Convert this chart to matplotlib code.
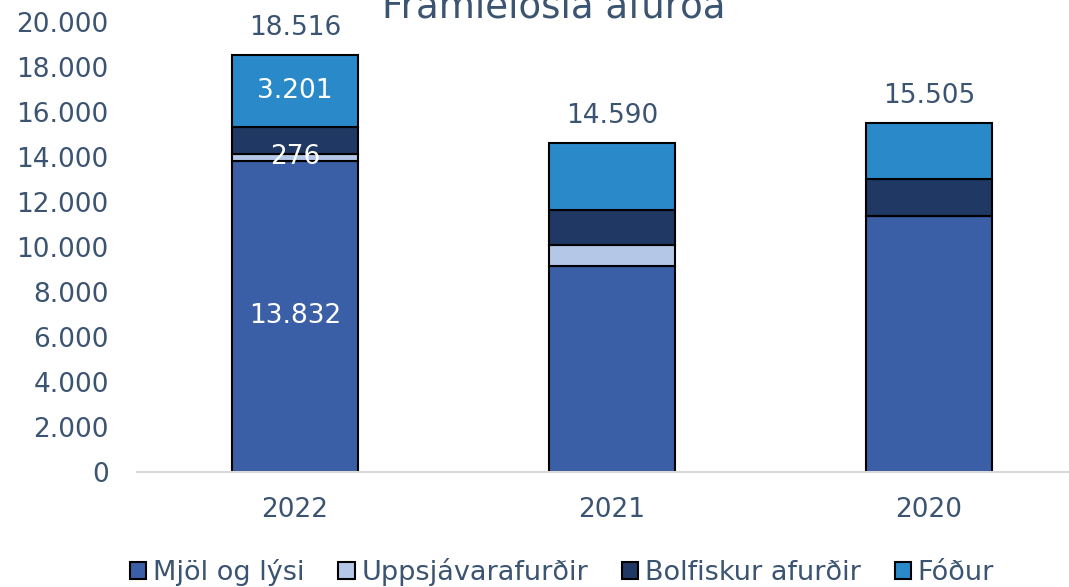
import numpy as np
import matplotlib.pyplot as plt

# Data
years = ['2022', '2021', '2020']
series = ['Mjöl og lýsi', 'Uppsjávarafurðir', 'Bolfiskur afurðir', 'Fóður']
mjol = [13832, 9150, 11360]
uppsjavar = [276, 940, 0]
bolfiskur = [1207, 1530, 1640]
fodur = [3201, 2970, 2505]
totals = [18516, 14590, 15505]
colors = ['#3A5FA6', '#B4C7E7', '#1F3864', '#2A89C9']

txt = '#3B5471'
fs = 19
plt.rcParams['font.family'] = ['DejaVu Sans']

fig = plt.figure(figsize=(10.69, 5.87), dpi=100)
# plot area runs off the right edge, like the reference
ax = fig.add_axes([136.5/1069, 114.7/587, 951/1069, 450.8/587])

x = np.arange(len(years))
bottom = np.zeros(len(years))
bars = []
for vals, name, c in zip([mjol, uppsjavar, bolfiskur, fodur], series, colors):
    b = ax.bar(x, vals, 0.4, bottom=bottom, color=c, edgecolor='black',
               linewidth=1.5, label=name)
    bars.append(b)
    bottom += np.array(vals)

# labels inside 2022 bar
for b, v in [(bars[0][0], mjol[0]), (bars[1][0], uppsjavar[0]), (bars[3][0], fodur[0])]:
    ax.text(b.get_x() + b.get_width()/2, b.get_y() + b.get_height()/2,
            f'{v:,}'.replace(',', '.'), ha='center', va='center',
            color='white', fontsize=fs)

# totals above bars
for xi, t in zip(x, totals):
    ax.annotate(f'{t:,}'.replace(',', '.'), (xi, t), xytext=(0, 27),
                textcoords='offset pixels', ha='center', va='center',
                color=txt, fontsize=fs)

ax.set_xlim(-0.5, 2.5)
ax.set_ylim(0, 20000)
ax.set_yticks(np.arange(0, 20001, 2000))
ax.set_yticklabels([f'{v:,}'.replace(',', '.') for v in range(0, 20001, 2000)])
ax.set_xticks(x)
ax.set_xticklabels(years)
ax.tick_params(axis='both', length=0, labelsize=fs, labelcolor=txt)
ax.tick_params(axis='y', pad=20)
ax.tick_params(axis='x', pad=18)
for s in ['top', 'right', 'left']:
    ax.spines[s].set_visible(False)
ax.spines['bottom'].set_color('#D9D9D9')
ax.spines['bottom'].set_linewidth(1.5)

fig.text(554/1069, 1 - 17.5/587, 'Framleiðsla afurða', ha='center',
         va='baseline', color=txt, fontsize=26.7)

leg = fig.legend(handles=bars, labels=series, loc='center',
                 bbox_to_anchor=(562/1069, 1 - 572/587), ncol=4, frameon=False,
                 fontsize=19.5, handlelength=0.6, handleheight=0.6,
                 handletextpad=0.25, columnspacing=1.25, labelcolor=txt)

fig.savefig('out.png', dpi=100)
